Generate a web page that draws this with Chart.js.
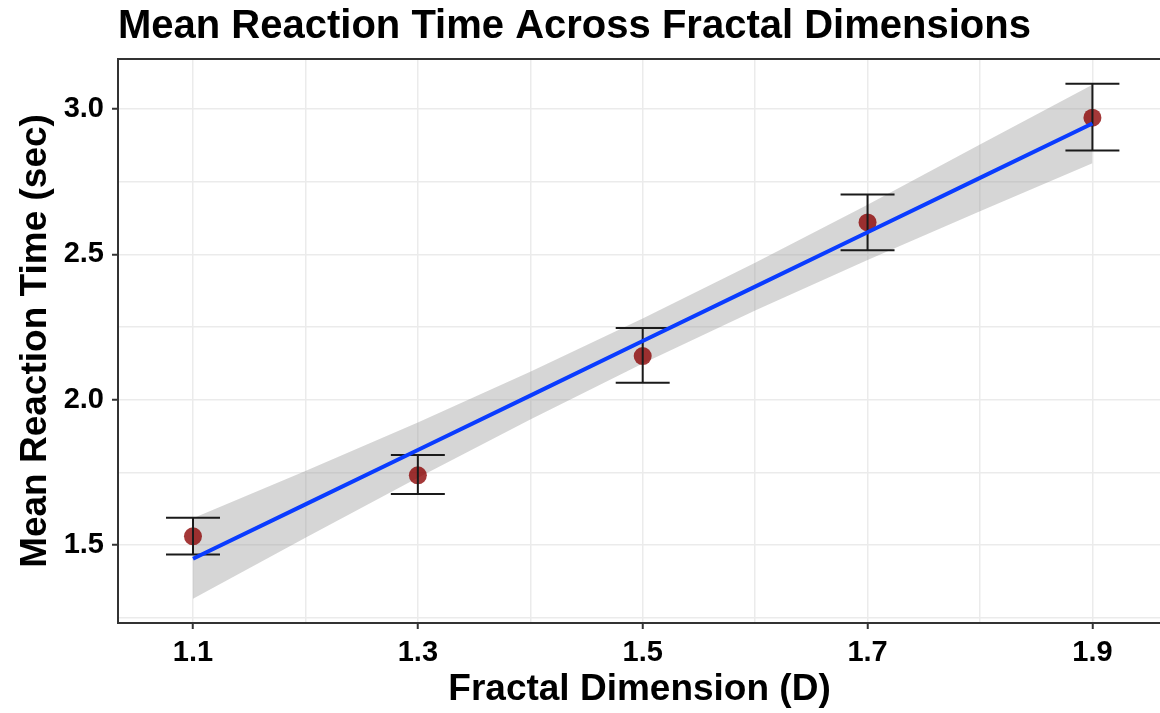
<!DOCTYPE html>
<html>
<head>
<meta charset="utf-8">
<script src="https://cdn.jsdelivr.net/npm/chart.js@4.4.1/dist/chart.umd.min.js"></script>
<style>
html, body { margin: 0; padding: 0; background: #fff; overflow: hidden; }
canvas { display: block; }
</style>
</head>
<body>
<canvas id="myChart" width="1170" height="713"></canvas>
<script>
// fractal dimension levels, mean reaction time and error bar ends
var dims = [1.1, 1.3, 1.5, 1.7, 1.9];
var meanRT = [1.53, 1.74, 2.15, 2.61, 2.97];
var errLow = [1.468, 1.676, 2.058, 2.514, 2.857];
var errHigh = [1.594, 1.81, 2.247, 2.706, 3.087];

var fitX = [1.1, 1.2, 1.3, 1.4, 1.5, 1.6, 1.7, 1.8, 1.9];
var fitY = [1.453, 1.640, 1.827, 2.014, 2.202, 2.389, 2.576, 2.763, 2.950];
var bandUp = [1.592, 1.755, 1.922, 2.096, 2.279, 2.471, 2.671, 2.878, 3.083];
var bandLo = [1.315, 1.525, 1.732, 1.932, 2.125, 2.307, 2.481, 2.648, 2.813];

// axis ticks (empty label = minor grid line)
var xTicks = [1.1, 1.2, 1.3, 1.4, 1.5, 1.6, 1.7, 1.8, 1.9];
var xLabels = ['1.1', '', '1.3', '', '1.5', '', '1.7', '', '1.9'];
var yTicks = [1.25, 1.5, 1.75, 2.0, 2.25, 2.5, 2.75, 3.0];
var yLabels = ['', '1.5', '', '2.0', '', '2.5', '', '3.0'];

function pts(xs, ys) {
  return xs.map(function (x, i) { return {x: x, y: ys[i]}; });
}

// error bars as broken line segments: top cap, stem, bottom cap
var capHalf = 0.024;
var errSegs = [];
dims.forEach(function (d, i) {
  errSegs.push({x: d - capHalf, y: errHigh[i]}, {x: d + capHalf, y: errHigh[i]}, {x: d, y: null});
  errSegs.push({x: d, y: errHigh[i]}, {x: d, y: errLow[i]}, {x: d, y: null});
  errSegs.push({x: d - capHalf, y: errLow[i]}, {x: d + capHalf, y: errLow[i]}, {x: d, y: null});
});

Chart.defaults.font.family = "'Liberation Sans', Arial, Helvetica, sans-serif";
Chart.defaults.color = '#000';

// ggplot style panel border
const panelBorder = {
  id: 'panelBorder',
  afterDraw(chart) {
    const a = chart.chartArea, ctx = chart.ctx;
    ctx.save();
    ctx.strokeStyle = '#333333';
    ctx.lineWidth = 2;
    ctx.strokeRect(a.left, a.top, a.right - a.left, a.bottom - a.top);
    ctx.restore();
  }
};

function tickCol(labels) {
  return function (c) { return labels[c.index] ? '#333333' : 'rgba(0,0,0,0)'; };
}

const chart = new Chart('myChart', {
  type: 'scatter',
  data: {
    datasets: [{
      data: pts(fitX, bandLo),
      showLine: true,
      borderWidth: 0,
      borderColor: 'rgba(0,0,0,0)',
      pointRadius: 0,
      order: 5
    }, {
      data: pts(fitX, bandUp),
      showLine: true,
      borderWidth: 0,
      borderColor: 'rgba(0,0,0,0)',
      backgroundColor: 'rgba(153,153,153,0.4)',
      fill: '-1',
      pointRadius: 0,
      order: 4
    }, {
      data: pts(fitX, fitY),
      showLine: true,
      borderColor: 'rgb(10,60,255)',
      borderWidth: 4,
      pointRadius: 0,
      order: 1
    }, {
      data: errSegs,
      showLine: true,
      spanGaps: false,
      borderColor: '#1a1a1a',
      borderWidth: 2,
      pointRadius: 0,
      order: 2
    }, {
      data: pts(dims, meanRT),
      pointRadius: 9,
      pointBorderWidth: 0,
      pointBackgroundColor: 'rgba(139,0,0,0.78)',
      order: 3
    }]
  },
  options: {
    responsive: false,
    animation: false,
    layout: {padding: {left: 0, right: 3, top: 0, bottom: 0}},
    plugins: {
      legend: {display: false},
      tooltip: {enabled: false},
      title: {
        display: true,
        text: 'Mean Reaction Time Across Fractal Dimensions',
        align: 'start',
        fullSize: false,
        color: '#000',
        font: {size: 40, weight: 'bold'},
        padding: {top: 3, bottom: 8}
      }
    },
    scales: {
      x: {
        type: 'linear',
        min: 1.0333,
        max: 1.961,
        afterBuildTicks: function (s) { s.ticks = xTicks.map(function (v) { return {value: v}; }); },
        afterFit: function (s) { s.height = 90; },
        border: {display: false},
        grid: {color: '#ebebeb', lineWidth: 1.5, tickLength: 6, tickColor: tickCol(xLabels), tickWidth: 2},
        ticks: {
          autoSkip: false,
          maxRotation: 0,
          padding: 7,
          color: '#000',
          font: {size: 29, weight: 'bold'},
          callback: function (v, i) { return xLabels[i]; }
        },
        title: {
          display: true,
          text: 'Fractal Dimension (D)',
          color: '#000',
          font: {size: 37, weight: 'bold'},
          padding: {top: 0, bottom: 1}
        }
      },
      y: {
        type: 'linear',
        min: 1.232,
        max: 3.172,
        afterBuildTicks: function (s) { s.ticks = yTicks.map(function (v) { return {value: v}; }); },
        afterFit: function (s) { s.width = 118; },
        border: {display: false},
        grid: {color: '#ebebeb', lineWidth: 1.5, tickLength: 6, tickColor: tickCol(yLabels), tickWidth: 2},
        ticks: {
          autoSkip: false,
          padding: 8,
          color: '#000',
          font: {size: 29, weight: 'bold'},
          callback: function (v, i) { return yLabels[i]; }
        },
        title: {
          display: true,
          text: 'Mean Reaction Time (sec)',
          color: '#000',
          font: {size: 37, weight: 'bold'},
          padding: {top: 14, bottom: 0}
        }
      }
    }
  },
  plugins: [panelBorder]
});
</script>
</body>
</html>
